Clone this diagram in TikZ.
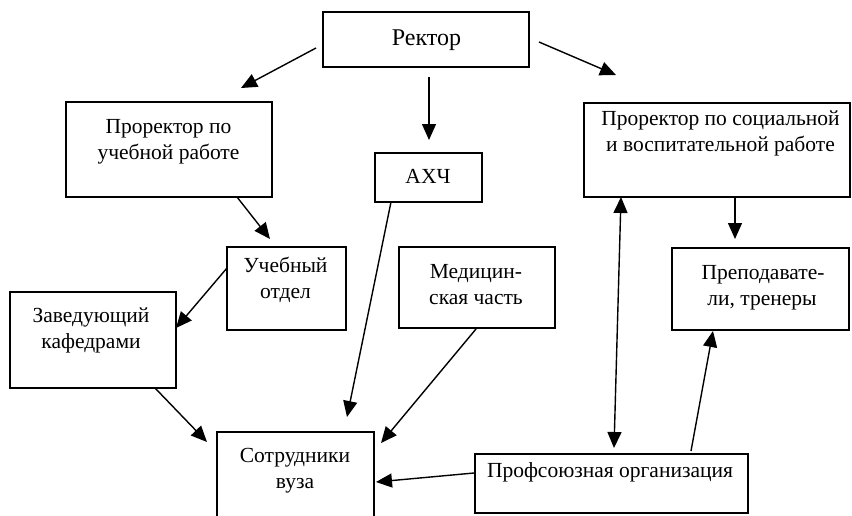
\documentclass[tikz,border=0pt]{standalone}
\usepackage{fontspec}
\setmainfont{Liberation Serif}
\usetikzlibrary{arrows.meta}
\tikzset{
  box/.style={draw, line width=1.8pt, inner sep=0pt, outer sep=0pt, rectangle},
  txt/.style={anchor=base, inner sep=0pt, font=\fontsize{21.5}{26}\selectfont},
  bigtxt/.style={anchor=base, inner sep=0pt, font=\fontsize{24}{28}\selectfont},
  arr/.style={line width=1.4pt, -{Triangle[length=16pt,width=14pt]}},
  darr/.style={line width=1.4pt, {Triangle[length=16pt,width=14pt]}-{Triangle[length=16pt,width=14pt]}}
}
\begin{document}
\begin{tikzpicture}[x=1pt,y=-1pt]
\useasboundingbox (0,0) rectangle (852,515);
\clip (0,0) rectangle (852,515);
% boxes
\node[box, minimum width=206pt, minimum height=55pt] (rektor) at (426,39.5) {};
\node[box, minimum width=206pt, minimum height=95pt] (pur) at (169,149.5) {};
\node[box, minimum width=107pt, minimum height=49pt] (axch) at (428.5,177.5) {};
\node[box, minimum width=266pt, minimum height=94pt] (psr) at (717,150) {};
\node[box, minimum width=119pt, minimum height=83pt] (uch) at (286.5,288.5) {};
\node[box, minimum width=156pt, minimum height=81pt] (med) at (477,287.5) {};
\node[box, minimum width=177pt, minimum height=82pt] (prep) at (760.5,289) {};
\node[box, minimum width=166pt, minimum height=96pt] (zav) at (93,340) {};
\node[box, minimum width=157pt, minimum height=96pt] (sotr) at (295.5,480) {};
\node[box, minimum width=273pt, minimum height=59pt] (prof) at (611.5,483.5) {};
% texts
\node[bigtxt] (t0) at (426.5,45) {Ректор};
\node[txt] (t1a) at (168.5,133) {Проректор по};
\node[txt] (t1b) at (168.5,159) {учебной работе};
\node[txt] (t2) at (428,183) {АХЧ};
\node[txt] (t3a) at (720.5,125) {Проректор по социальной};
\node[txt] (t3b) at (720.5,151) {и воспитательной работе};
\node[txt] (t4a) at (285.5,272) {Учебный};
\node[txt] (t4b) at (285.5,298) {отдел};
\node[txt] (t5a) at (476,278) {Медицин-};
\node[txt] (t5b) at (476,304) {ская часть};
\node[txt] (t6a) at (763,279) {Преподавате-};
\node[txt] (t6b) at (762,305) {ли, тренеры};
\node[txt] (t7a) at (91,322) {Заведующий};
\node[txt] (t7b) at (91,348) {кафедрами};
\node[txt] (t8a) at (295,462) {Сотрудники};
\node[txt] (t8b) at (295,488) {вуза};
\node[txt] (t9) at (610,477) {Профсоюзная организация};
% connectors
\draw[arr] ([shift={(-7,36)}]rektor.north west) -- ([shift={(175,-14)}]pur.north west);
\draw[arr] ([shift={(106,65)}]rektor.north west) -- ([shift={(54,-13)}]axch.north west);
\draw[arr] ([shift={(216,30)}]rektor.north west) -- ([shift={(32,-28)}]psr.north west);
\draw[arr] ([shift={(171,95)}]pur.north west) -- ([shift={(43,-8)}]uch.north west);
\draw[arr] ([shift={(0,21)}]uch.north west) -- ([shift={(166,36)}]zav.north west);
\draw[arr] ([shift={(145,96)}]zav.north west) -- ([shift={(-10,10)}]sotr.north west);
\draw[arr] ([shift={(16,49)}]axch.north west) -- ([shift={(130,-15)}]sotr.north west);
\draw[arr] ([shift={(77,82)}]med.north west) -- ([shift={(164,11)}]sotr.north west);
\draw[arr] ([shift={(-1,19)}]prof.north west) -- ([shift={(159,50)}]sotr.north west);
\draw[darr] ([shift={(37,94)}]psr.north west) -- ([shift={(139,-6)}]prof.north west);
\draw[arr] ([shift={(151,94)}]psr.north west) -- ([shift={(63,-9)}]prep.north west);
\draw[arr] ([shift={(216,-3)}]prof.north west) -- ([shift={(41,83)}]prep.north west);
\end{tikzpicture}
\end{document}
